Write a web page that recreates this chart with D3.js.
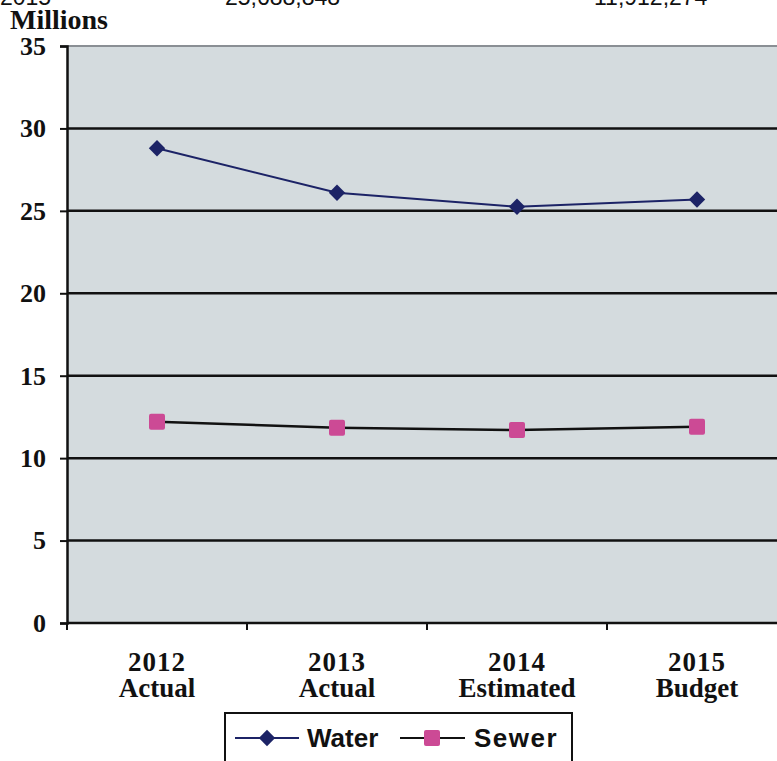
<!DOCTYPE html>
<html>
<head>
<meta charset="utf-8">
<script src="https://cdn.jsdelivr.net/npm/d3@7"></script>
<style>
  html, body { margin: 0; padding: 0; background: #fff; overflow: hidden; }
  svg { display: block; }
</style>
</head>
<body>
<script>
// Revenue by year, in millions of dollars
const years = ["2012", "2013", "2014", "2015"];
const yearNotes = ["Actual", "Actual", "Estimated", "Budget"];
const water = [28.8, 26.1, 25.25, 25.69];
const sewer = [12.2, 11.85, 11.7, 11.91];
const yTicks = [0, 5, 10, 15, 20, 25, 30, 35];
const headerCells = ["2015", "25,688,848", "11,912,274"];

const SERIF = "'Liberation Serif'";
const SANS = "'Liberation Sans'";

const W = 777, H = 761;
const margin = { left: 67, top: 46, bottom: 138 };
const plotW = 4 * 180, plotH = H - margin.top - margin.bottom;

const svg = d3.select("body").append("svg").attr("width", W).attr("height", H);

// Header row left over from the table above the chart (mostly cut off)
svg.append("g").selectAll("text").data(headerCells).join("text")
  .attr("x", (d, i) => [0, 225, 594][i])
  .attr("y", 5)
  .style("font-family", SANS).style("font-size", "23px")
  .attr("fill", "#111")
  .text(d => d);

const x = d3.scaleBand().domain(years).range([margin.left, margin.left + plotW]);
const y = d3.scaleLinear().domain([0, 35]).range([margin.top + plotH, margin.top]);

// Plot area
svg.append("rect")
  .attr("x", margin.left).attr("y", y(35))
  .attr("width", plotW).attr("height", y(0) - y(35))
  .attr("fill", "#d4dbde");

// Top border of plot area
svg.append("line")
  .attr("x1", margin.left).attr("x2", margin.left + plotW)
  .attr("y1", y(35)).attr("y2", y(35))
  .attr("stroke", "#8a8f94").attr("stroke-width", 2);

// Horizontal gridlines
svg.append("g").selectAll("line").data(yTicks.filter(t => t > 0 && t < 35)).join("line")
  .attr("x1", margin.left).attr("x2", margin.left + plotW)
  .attr("y1", d => y(d)).attr("y2", d => y(d))
  .attr("stroke", "#111").attr("stroke-width", 2.5);

// Y axis
const yAxis = svg.append("g")
  .attr("transform", `translate(${margin.left},0)`)
  .call(d3.axisLeft(y).tickValues(yTicks).tickSize(7).tickPadding(14));
yAxis.select(".domain").attr("stroke", "#111").attr("stroke-width", 2.5);
yAxis.selectAll(".tick line").attr("stroke", "#111").attr("stroke-width", 2);
yAxis.selectAll(".tick text")
  .style("font-family", SERIF).style("font-weight", "bold").style("font-size", "26px")
  .attr("fill", "#111");

// X axis with ticks on category boundaries
const xAxisG = svg.append("g").attr("transform", `translate(0,${y(0)})`);
xAxisG.append("line")
  .attr("x1", margin.left).attr("x2", margin.left + plotW)
  .attr("stroke", "#111").attr("stroke-width", 2.5);
xAxisG.selectAll("line.tk").data(years).join("line").attr("class", "tk")
  .attr("x1", d => x(d)).attr("x2", d => x(d))
  .attr("y1", 0).attr("y2", 7)
  .attr("stroke", "#111").attr("stroke-width", 2);
const catLabels = xAxisG.selectAll("text").data(years).join("text")
  .attr("x", d => x(d) + x.bandwidth() / 2)
  .attr("text-anchor", "middle")
  .style("font-family", SERIF).style("font-weight", "bold").style("font-size", "27px")
  .attr("fill", "#111");
catLabels.append("tspan").attr("x", d => x(d) + x.bandwidth() / 2).attr("y", 48)
  .attr("letter-spacing", 1).text(d => d);
catLabels.append("tspan").attr("x", d => x(d) + x.bandwidth() / 2).attr("y", 74)
  .text((d, i) => yearNotes[i]);

// Units label
svg.append("text")
  .attr("x", 10).attr("y", 29)
  .style("font-family", SERIF).style("font-weight", "bold").style("font-size", "28px")
  .attr("fill", "#111")
  .text("Millions");

const cx = d => x(d) + x.bandwidth() / 2;
const line = d3.line().x((v, i) => cx(years[i])).y(v => y(v));

const waterColor = "#1c2366";
const sewerColor = "#cc4a95";

// Water series
svg.append("path").datum(water).attr("d", line)
  .attr("fill", "none").attr("stroke", waterColor).attr("stroke-width", 2);
svg.append("g").selectAll("path").data(water).join("path")
  .attr("d", d3.symbol().type(d3.symbolDiamond2).size(170))
  .attr("transform", (v, i) => `translate(${cx(years[i])},${y(v)})`)
  .attr("fill", waterColor);

// Sewer series
svg.append("path").datum(sewer).attr("d", line)
  .attr("fill", "none").attr("stroke", "#111").attr("stroke-width", 2.5);
svg.append("g").selectAll("rect").data(sewer).join("rect")
  .attr("x", (v, i) => cx(years[i]) - 8).attr("y", v => y(v) - 8)
  .attr("width", 16).attr("height", 16).attr("rx", 2)
  .attr("fill", sewerColor);

// Legend
const lg = svg.append("g");
lg.append("rect")
  .attr("x", 225).attr("y", 713).attr("width", 347).attr("height", 60)
  .attr("fill", "#fff").attr("stroke", "#111").attr("stroke-width", 2);
lg.append("line").attr("x1", 235).attr("x2", 299).attr("y1", 738).attr("y2", 738)
  .attr("stroke", waterColor).attr("stroke-width", 2);
lg.append("path").attr("d", d3.symbol().type(d3.symbolDiamond2).size(170))
  .attr("transform", "translate(267,738)").attr("fill", waterColor);
lg.append("text").attr("x", 307).attr("y", 747)
  .style("font-family", SANS).style("font-weight", "bold").style("font-size", "26px")
  .attr("fill", "#111").text("Water");
lg.append("line").attr("x1", 400).attr("x2", 465).attr("y1", 738).attr("y2", 738)
  .attr("stroke", "#111").attr("stroke-width", 2);
lg.append("rect").attr("x", 424).attr("y", 730).attr("width", 16).attr("height", 16)
  .attr("rx", 2).attr("fill", sewerColor);
lg.append("text").attr("x", 474).attr("y", 747)
  .style("font-family", SANS).style("font-weight", "bold").style("font-size", "26px")
  .attr("letter-spacing", 1.5).attr("fill", "#111").text("Sewer");
</script>
</body>
</html>
